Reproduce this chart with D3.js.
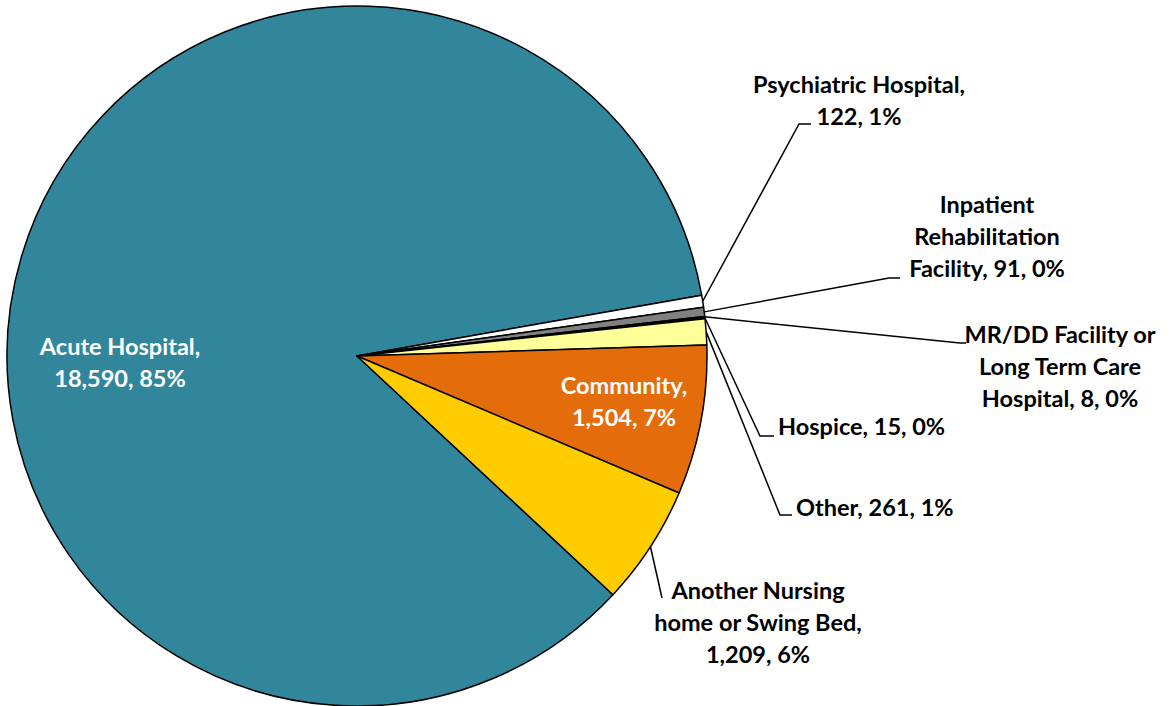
<!DOCTYPE html>
<html>
<head>
<meta charset="utf-8">
<script src="https://cdn.jsdelivr.net/npm/d3@7"></script>
<style>
  body { margin: 0; background: #fff; }
  svg text { font-family: Lato, "Open Sans", sans-serif; font-weight: 700; }
</style>
</head>
<body>
<div id="chart"></div>
<script>
// data, in the order the slices run clockwise
var categories = ["Acute Hospital", "Psychiatric Hospital", "Inpatient Rehabilitation Facility",
  "MR/DD Facility or Long Term Care Hospital", "Hospice", "Other", "Community",
  "Another Nursing home or Swing Bed"];
var counts = [18590, 122, 91, 8, 15, 261, 1504, 1209];
var percents = ["85%", "1%", "0%", "0%", "0%", "1%", "7%", "6%"];
var labelLines = [
  ["Acute Hospital,", "18,590, 85%"],
  ["Psychiatric Hospital,", "122, 1%"],
  ["Inpatient", "Rehabilitation", "Facility, 91, 0%"],
  ["MR/DD Facility or", "Long Term Care", "Hospital, 8, 0%"],
  ["Hospice, 15, 0%"],
  ["Other, 261, 1%"],
  ["Community,", "1,504, 7%"],
  ["Another Nursing", "home or Swing Bed,", "1,209, 6%"]
];
var colors = ["#31869c", "#ffffff", "#808080", "#000000", "#ffffff", "#ffff99", "#e46c0a", "#ffcc00"];

var width = 1170, height = 706;
var cx = 357, cy = 356, radius = 350;

// label placement: text pos, anchor, colour, leader elbow (null = inside label)
var labelPos = [
  { x: 120, y: 355, anchor: "middle", fill: "#fff", elbow: null },
  { x: 859, y: 93, anchor: "middle", fill: "#000", elbow: [799, 124], end: [811, 124] },
  { x: 987, y: 213, anchor: "middle", fill: "#000", elbow: [889, 278], end: [900, 278] },
  { x: 1060, y: 343, anchor: "middle", fill: "#000", elbow: [960, 343], end: [966, 343] },
  { x: 778, y: 435, anchor: "start", fill: "#000", elbow: [760, 436], end: [774, 436] },
  { x: 796, y: 516, anchor: "start", fill: "#000", elbow: [780, 515], end: [792, 515] },
  { x: 624, y: 394, anchor: "middle", fill: "#fff", elbow: null },
  { x: 758, y: 599, anchor: "middle", fill: "#000", elbow: [662, 598], end: [662, 598] }
];
var lineH = 32;

var svg = d3.select("#chart").append("svg")
    .attr("width", width)
    .attr("height", height);

var g = svg.append("g")
    .attr("transform", "translate(" + cx + "," + cy + ")");

var start = 133 * Math.PI / 180;
var pie = d3.pie().sort(null).value(function(d) { return d; })
    .startAngle(start).endAngle(start + 2 * Math.PI);
var arcs = pie(counts);

var arc = d3.arc().innerRadius(0).outerRadius(radius);

g.selectAll("path.slice")
    .data(arcs)
  .enter().append("path")
    .attr("class", "slice")
    .attr("d", arc)
    .attr("fill", function(d, i) { return colors[i]; })
    .attr("stroke", "#000")
    .attr("stroke-width", 1.5)
    .attr("stroke-linejoin", "round");

// leader lines
arcs.forEach(function(d, i) {
  var p = labelPos[i];
  if (!p.elbow) return;
  var a = (d.startAngle + d.endAngle) / 2;
  var sx = cx + radius * Math.sin(a), sy = cy - radius * Math.cos(a);
  svg.append("polyline")
      .attr("points", [[sx, sy], p.elbow, p.end].map(function(q) { return q.join(","); }).join(" "))
      .attr("fill", "none")
      .attr("stroke", "#000")
      .attr("stroke-width", 1.5);
});

// labels
labelLines.forEach(function(lines, i) {
  var p = labelPos[i];
  var t = svg.append("text")
      .attr("x", p.x)
      .attr("y", p.y)
      .attr("text-anchor", p.anchor)
      .attr("fill", p.fill)
      .style("font-size", "23.5px");
  lines.forEach(function(s, j) {
    t.append("tspan")
        .attr("x", p.x)
        .attr("dy", j === 0 ? 0 : lineH)
        .text(s);
  });
});
</script>
</body>
</html>
